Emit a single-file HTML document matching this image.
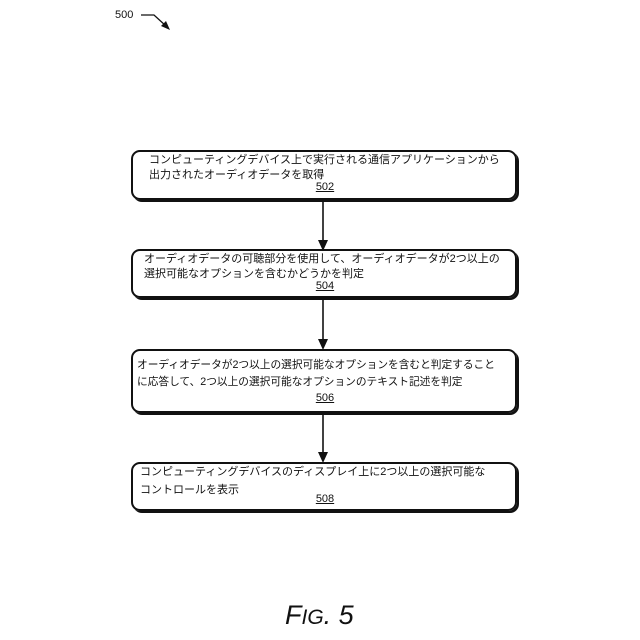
<!DOCTYPE html>
<html><head><meta charset="utf-8"><style>
body{margin:0;width:640px;height:640px;background:#fff;position:relative;overflow:hidden;font-family:"Liberation Sans","Noto Sans CJK JP",sans-serif;color:#111}
.b{position:absolute;left:131px;width:386px;border:2px solid #111;border-radius:9px;box-shadow:2px 2px 0 #111;box-sizing:border-box}
.t{position:absolute;left:149px;font-size:11px;white-space:nowrap;line-height:15px}
.n{position:absolute;font-size:11px;text-decoration:underline;width:40px;text-align:center;left:305px}
</style></head><body>
<div style="position:absolute;left:115px;top:9px;font-size:11px">500</div>
<svg width="640" height="640" style="position:absolute;left:0;top:0">
<path d="M141 15 L154 15 L166 26" stroke="#111" stroke-width="1.3" fill="none"/>
<polygon points="170,30 161,26 166,21" fill="#111"/>
<g stroke="#111" stroke-width="1.6">
<line x1="323" y1="201" x2="323" y2="242"/>
<line x1="323" y1="298" x2="323" y2="341"/>
<line x1="323" y1="414" x2="323" y2="454"/>
</g>
<g fill="#111">
<polygon points="318,240 328,240 323,251"/>
<polygon points="318,339 328,339 323,350"/>
<polygon points="318,452 328,452 323,463"/>
</g>
</svg>
<div class="b" style="top:150px;height:50px"></div>
<div class="t" style="top:153px">コンピューティングデバイス上で実行される通信アプリケーションから<br>出力されたオーディオデータを取得</div>
<div class="n" style="top:181px">502</div>
<div class="b" style="top:249px;height:49px"></div>
<div class="t" style="top:252px;left:144px">オーディオデータの可聴部分を使用して、オーディオデータが2つ以上の<br>選択可能なオプションを含むかどうかを判定</div>
<div class="n" style="top:280px">504</div>
<div class="b" style="top:349px;height:64px"></div>
<div class="t" style="top:357px;left:137px;line-height:17px;font-size:10.7px">オーディオデータが2つ以上の選択可能なオプションを含むと判定すること<br>に応答して、2つ以上の選択可能なオプションのテキスト記述を判定</div>
<div class="n" style="top:392px">506</div>
<div class="b" style="top:462px;height:49px"></div>
<div class="t" style="top:463px;left:140px;line-height:18px">コンピューティングデバイスのディスプレイ上に2つ以上の選択可能な<br>コントロールを表示</div>
<div class="n" style="top:493px">508</div>
<div style="position:absolute;left:285px;top:600px;font-size:27px;font-style:italic">F<span style="font-size:21px">IG</span>. 5</div>
</body></html>
